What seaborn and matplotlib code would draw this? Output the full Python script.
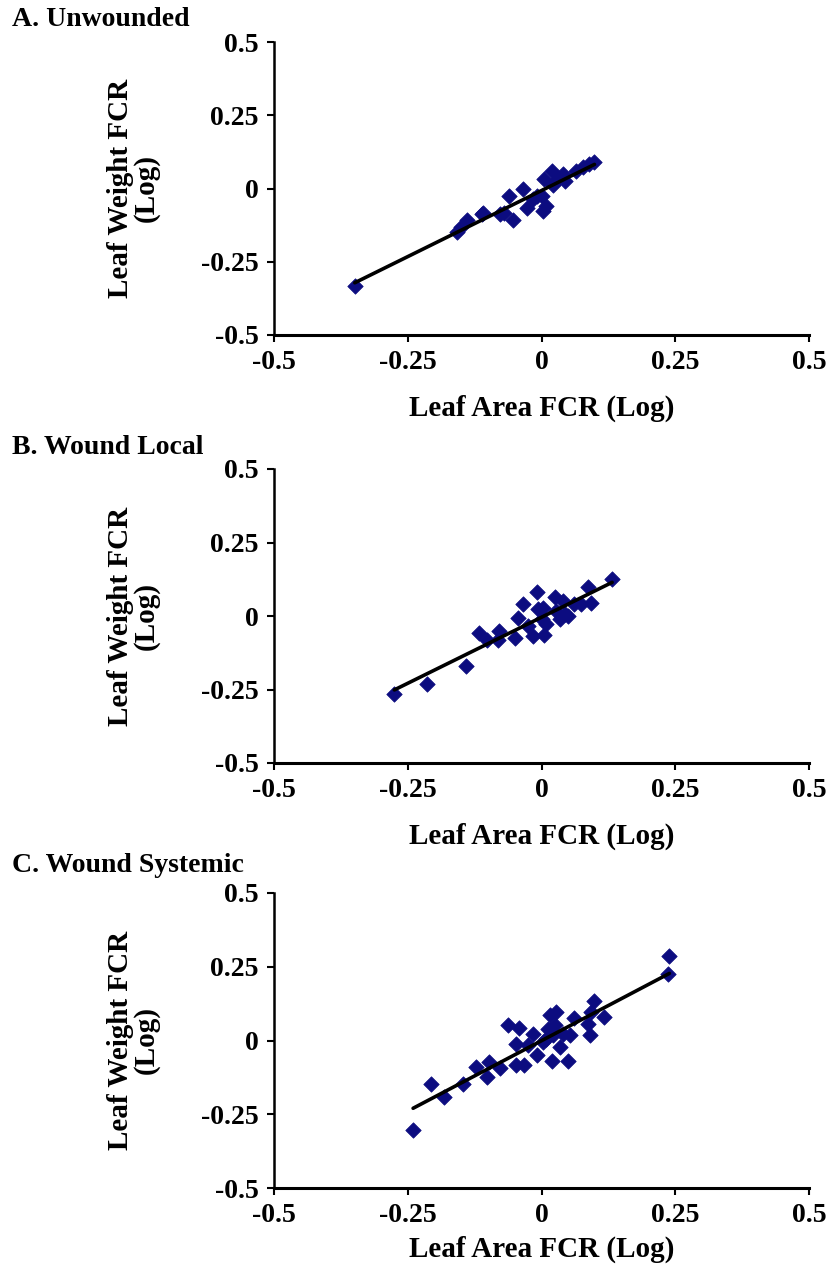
import matplotlib
matplotlib.use("Agg")
import matplotlib.pyplot as plt
import seaborn as sns
import pandas as pd

sns.set_theme(style="ticks")
plt.rcParams['font.family'] = ['Liberation Serif', 'DejaVu Serif']
plt.rcParams['font.weight'] = 'bold'
plt.rcParams['axes.unicode_minus'] = False

# Panel A: Unwounded
a_x = [-0.349, -0.158, -0.151, -0.140, -0.112, -0.109, -0.078, -0.071, -0.060, -0.054,
       -0.034, -0.028, -0.016, 0.000, 0.003, 0.009, 0.004, 0.020, 0.028, 0.040,
       0.043, 0.065, 0.078, 0.089, 0.099, 0.022, -0.009]
a_y = [-0.332, -0.150, -0.133, -0.107, -0.088, -0.082, -0.088, -0.082, -0.027, -0.107,
       0.000, -0.065, -0.036, -0.025, -0.076, -0.061, 0.032, 0.060, 0.026, 0.049,
       0.026, 0.060, 0.072, 0.083, 0.091, 0.011, -0.025]

# Panel B: Wound Local
b_x = [-0.275, -0.214, -0.141, -0.116, -0.102, -0.079, -0.081, -0.050, -0.043, -0.035,
       -0.025, -0.016, -0.009, -0.006, 0.000, 0.004, 0.003, 0.009, 0.025, 0.028,
       0.034, 0.040, 0.043, 0.074, 0.087, 0.093, 0.132, 0.060, 0.050]
b_y = [-0.267, -0.230, -0.170, -0.059, -0.080, -0.051, -0.082, -0.074, -0.006, 0.040,
       -0.034, -0.068, 0.080, 0.023, -0.011, -0.066, 0.028, -0.028, 0.063, 0.017,
       -0.011, 0.051, 0.006, 0.040, 0.097, 0.045, 0.126, 0.040, 0.000]

# Panel C: Wound Systemic
c_x = [0.239, 0.236, -0.240, -0.207, -0.183, -0.147, -0.122, -0.099, -0.102, -0.078,
       -0.062, -0.042, -0.048, -0.047, -0.033, -0.025, -0.016, -0.009, 0.003, 0.012,
       0.016, 0.027, 0.019, 0.025, 0.034, 0.040, 0.050, 0.053, 0.060, 0.087,
       0.091, 0.093, 0.099, 0.116, 0.022, 0.009]
c_y = [0.285, 0.225, -0.302, -0.146, -0.191, -0.146, -0.090, -0.073, -0.124, -0.093,
       0.051, 0.042, -0.011, -0.084, -0.084, -0.015, 0.023, -0.048, -0.006, 0.039,
       0.087, 0.096, -0.068, 0.051, -0.023, 0.023, -0.068, 0.019, 0.075, 0.056,
       0.017, 0.096, 0.135, 0.081, 0.017, 0.006]

titles = ["A. Unwounded", "B. Wound Local", "C. Wound Systemic"]
ticks = [-0.5, -0.25, 0, 0.25, 0.5]
tick_labels = ["-0.5", "-0.25", "0", "0.25", "0.5"]
x_label = "Leaf Area FCR (Log)"
y_label = "Leaf Weight FCR\n(Log)"

panels = [(a_x, a_y), (b_x, b_y), (c_x, c_y)]

fig = plt.figure(figsize=(8.38, 12.7), dpi=100)
W, H = 838, 1270
ax_left, ax_right = 274, 809
tops = [42, 469, 893]
bottoms = [335, 763, 1188]
title_y = [20, 447, 866]
xlabel_pads = [14, 14, 5]

marker_color = "#0c0c80"

for i, ((xs, ys), title) in enumerate(zip(panels, titles)):
    ax = fig.add_axes([ax_left / W, 1 - bottoms[i] / H,
                       (ax_right - ax_left) / W, (bottoms[i] - tops[i]) / H])
    df = pd.DataFrame({"x": xs, "y": ys})
    sns.regplot(data=df, x="x", y="y", ax=ax, ci=None, marker="D",
                scatter_kws=dict(s=62, color=marker_color, edgecolor=marker_color,
                                 linewidths=0.5, alpha=1, zorder=2),
                line_kws=dict(color="black", lw=2.6, zorder=3))
    ax.set_xlim(-0.5, 0.5)
    ax.set_ylim(-0.5, 0.5)
    ax.set_xticks(ticks)
    ax.set_xticklabels(tick_labels)
    ax.set_yticks(ticks)
    ax.set_yticklabels(tick_labels)
    ax.tick_params(axis="both", direction="out", length=5, width=1.5,
                   labelsize=20, pad=6, color="black", labelcolor="black")
    for lab in ax.get_xticklabels() + ax.get_yticklabels():
        lab.set_fontweight("bold")
    ax.spines["top"].set_visible(False)
    ax.spines["right"].set_visible(False)
    ax.spines["left"].set_linewidth(1.8)
    ax.spines["bottom"].set_linewidth(2.2)
    ax.spines["left"].set_color("black")
    ax.spines["bottom"].set_color("black")
    ax.set_facecolor("white")
    ax.set_xlabel(x_label, fontsize=21, fontweight="bold", labelpad=xlabel_pads[i],
                  color="black")
    ax.set_ylabel(y_label, fontsize=21, fontweight="bold", labelpad=30,
                  color="black", linespacing=0.9)
    fig.text(12 / W, 1 - title_y[i] / H, title, fontsize=20, fontweight="bold",
             ha="left", va="center", color="black")

fig.savefig("out.png", dpi=100, facecolor="white")
